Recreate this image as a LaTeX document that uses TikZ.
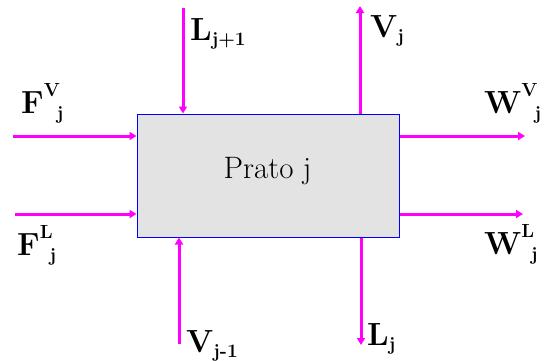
\documentclass[tikz,border=0pt]{standalone}
\usepackage{fontspec}
\usetikzlibrary{positioning,arrows.meta}
\definecolor{magenta}{HTML}{FF00FF}
\definecolor{boxBlue}{HTML}{0000FF}
\definecolor{boxGray}{HTML}{E3E3E3}
\newcommand{\subsz}{\fontsize{19}{19}\selectfont\bfseries}
\newcommand{\fluxo}[3]{#1\raisebox{17pt}{\subsz #2}\kern-3pt\raisebox{-6pt}{\subsz #3}}
\newcommand{\corr}[2]{#1\raisebox{-5pt}{\subsz #2}}
\tikzset{
  fluxarrow/.style={draw=magenta,line width=3pt,-{Triangle[length=7pt,width=8pt]}},
  fluxlabel/.style={inner sep=0pt,anchor=base west,font=\fontsize{32}{32}\selectfont\bfseries}
}

\begin{document}
\begin{tikzpicture}[x=1pt,y=-1pt]
        \useasboundingbox (0,0) rectangle (544,360);
        \node[draw=boxBlue,fill=boxGray,line width=1pt,minimum width=262pt,
              minimum height=123pt] (prato) at (268,175.5) {};
        \node[inner sep=0pt,anchor=base,font=\fontsize{31}{31}\selectfont]
              (pratotxt) at (267.5,178) {Prato j};
        % free ends of the streams
        \coordinate (fvin) at (13,136);
        \coordinate (flin) at (15,214);
        \coordinate (wvout) at (525,136);
        \coordinate (wlout) at (523,214);
        \coordinate (ljin) at (183,8);
        \coordinate (vjout) at (360,6);
        \coordinate (vjin) at (179,344);
        \coordinate (ljout) at (361,345);
        \draw[fluxarrow] (fvin) -- (fvin -| prato.west);
        \draw[fluxarrow] (flin) -- (flin -| prato.west);
        \draw[fluxarrow] (prato.east |- wvout) -- (wvout);
        \draw[fluxarrow] (prato.east |- wlout) -- (wlout);
        \draw[fluxarrow] (ljin) -- (ljin |- prato.north);
        \draw[fluxarrow] (vjout |- prato.north) -- (vjout);
        \draw[fluxarrow] (vjin) -- (vjin |- prato.south);
        \draw[fluxarrow] (ljout |- prato.south) -- (ljout);
        % labels
        \node[fluxlabel] (fvlab) at (21,113) {\fluxo{F}{V}{j}};
        \node[fluxlabel] (fllab) at (17,255) {\fluxo{F}{L}{j}};
        \node[fluxlabel] (wvlab) at (484,113) {\fluxo{W}{V}{j}};
        \node[fluxlabel] (wllab) at (484,254) {\fluxo{W}{L}{j}};
        \node[fluxlabel] (ljinlab) at (190,40) {\corr{L}{j+1}};
        \node[fluxlabel] (vjoutlab) at (370,37) {\corr{V}{j}};
        \node[fluxlabel] (vjinlab) at (186,352) {\corr{V}{j-1}};
        \node[fluxlabel] (ljoutlab) at (367,345) {\corr{L}{j}};
      \end{tikzpicture}
\end{document}
